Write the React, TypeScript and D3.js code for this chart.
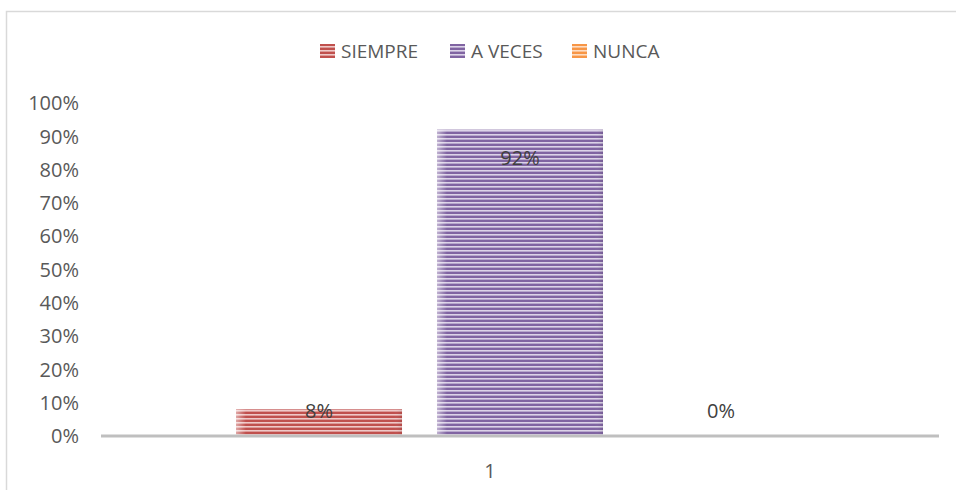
import React from "react";
import * as d3 from "d3";

const categories = ["1"];
const seriesNames = ["SIEMPRE", "A VECES", "NUNCA"];
const seriesValues = [0.08, 0.92, 0.0];
const seriesColors = ["#C0504D", "#8064A2", "#F79646"];
const seriesLight = ["#EFC9C8", "#DCD3E8", "#FDDCC2"];
const yTicks = [0, 0.1, 0.2, 0.3, 0.4, 0.5, 0.6, 0.7, 0.8, 0.9, 1.0];

const W = 956;
const H = 490;
const FONT = "'Open Sans', 'Liberation Sans', sans-serif";

export default function App() {
  const plotLeft = 101;
  const plotRight = 939;
  const y = d3.scaleLinear().domain([0, 1]).range([436, 103]);
  const x0 = d3
    .scaleBand<string>()
    .domain(categories)
    .range([plotLeft, plotRight])
    .paddingInner(0)
    .paddingOuter(0.2377);
  const x1 = d3
    .scaleBand<string>()
    .domain(seriesNames)
    .range([0, x0.bandwidth()])
    .paddingInner(0.174)
    .paddingOuter(0);
  const fmt = d3.format(".0%");
  const legendX = [320, 450, 572];

  return (
    <svg
      width={W}
      height={H}
      style={{ position: "absolute", left: 0, top: 0, display: "block", background: "#fff" }}
    >
      <defs>
        {seriesNames.map((s, i) => (
          <pattern
            key={s}
            id={`stripe${i}`}
            patternUnits="userSpaceOnUse"
            width={8}
            height={4}
          >
            <rect x={0} y={0} width={8} height={4} fill={seriesLight[i]} />
            <rect x={0} y={0} width={8} height={2} fill={seriesColors[i]} />
            <rect x={0} y={3} width={8} height={1} fill={seriesColors[i]} opacity={0.4} />
          </pattern>
        ))}
        <linearGradient id="edge" x1="0" x2="1" y1="0" y2="0">
          <stop offset="0" stopColor="#fff" stopOpacity={0.5} />
          <stop offset="0.06" stopColor="#fff" stopOpacity={0} />
          <stop offset="0.95" stopColor="#fff" stopOpacity={0} />
          <stop offset="1" stopColor="#000" stopOpacity={0.08} />
        </linearGradient>
      </defs>

      <rect x={6.5} y={11.5} width={1000} height={600} fill="#fff" stroke="#D9D9D9" strokeWidth={1.5} />

      {/* legend */}
      {seriesNames.map((s, i) => (
        <g key={s}>
          <rect x={legendX[i]} y={44} width={15} height={14} fill={`url(#stripe${i})`} />
          <text
            x={legendX[i] + 21}
            y={58}
            fontFamily={FONT}
            fontSize={19}
            fill="#595959"
          >
            {s}
          </text>
        </g>
      ))}

      {/* y tick labels */}
      {yTicks.map((t) => (
        <text
          key={t}
          x={79}
          y={y(t)}
          dy="0.36em"
          textAnchor="end"
          fontFamily={FONT}
          fontSize={20}
          fill="#595959"
        >
          {fmt(t)}
        </text>
      ))}

      {/* bars */}
      {categories.map((c) => (
        <g key={c} transform={`translate(${x0(c)},0)`}>
          {seriesNames.map((s, i) => {
            const v = seriesValues[i];
            const bx = x1(s) as number;
            const bw = x1.bandwidth();
            const top = y(v);
            const h = y(0) - top;
            return (
              <g key={s}>
                {h > 0 && (
                  <>
                    <rect x={bx} y={top} width={bw} height={h} fill={`url(#stripe${i})`} />
                    <rect x={bx} y={top} width={bw} height={h} fill="url(#edge)" />
                  </>
                )}
              </g>
            );
          })}
        </g>
      ))}

      {/* axis line */}
      <line x1={plotLeft} x2={plotRight} y1={436} y2={436} stroke="#BFBFBF" strokeWidth={3} />

      {/* data labels */}
      {categories.map((c) => (
        <g key={c} transform={`translate(${x0(c)},0)`}>
          {seriesNames.map((s, i) => {
            const v = seriesValues[i];
            const cx = (x1(s) as number) + x1.bandwidth() / 2;
            const by = Math.min(y(v) + 35, y(0) - 18);
            return (
              <text
                key={s}
                x={cx}
                y={by}
                textAnchor="middle"
                fontFamily={FONT}
                fontSize={20}
                fill="#404040"
              >
                {fmt(v)}
              </text>
            );
          })}
        </g>
      ))}

      {/* category label */}
      {categories.map((c) => (
        <text
          key={c}
          x={(x0(c) as number) + x0.bandwidth() / 2 - 30}
          y={478}
          textAnchor="middle"
          fontFamily={FONT}
          fontSize={20}
          fill="#595959"
        >
          {c}
        </text>
      ))}
    </svg>
  );
}
